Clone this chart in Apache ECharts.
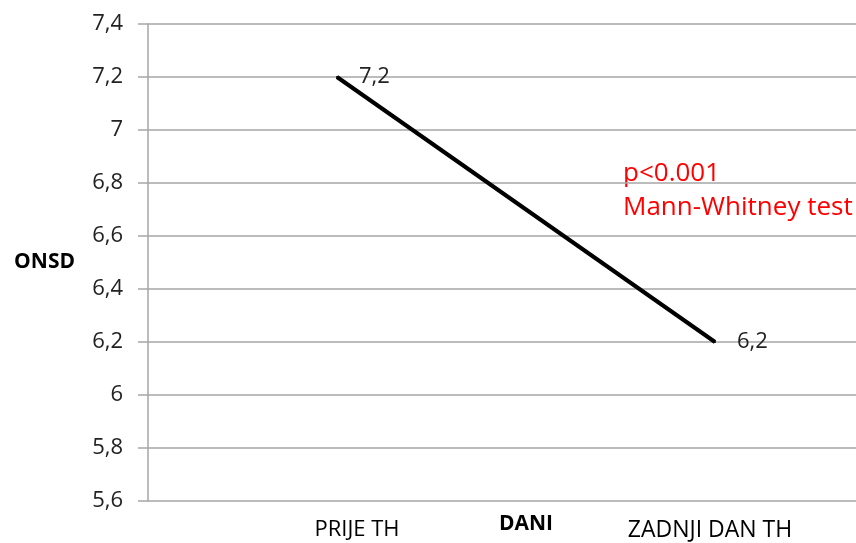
<!DOCTYPE html>
<html>
<head>
<meta charset="utf-8">
<script src="https://cdn.jsdelivr.net/npm/echarts@6/dist/echarts.min.js"></script>
<style>
html,body{margin:0;padding:0;background:#fff;}
#main{width:856px;height:543px;}
</style>
</head>
<body>
<div id="main"></div>
<script>
var categories = ["PRIJE TH", "ZADNJI DAN TH"];
var onsd = [7.2, 6.2];
var yMin = 5.6, yMax = 7.4, yStep = 0.2;
var noteLines = ["p<0.001", "Mann-Whitney test"];

var chart = echarts.init(document.getElementById('main'));
var font = 'Open Sans';
var option = {
    backgroundColor: '#fff',
    animation: false,
    grid: {left: 148, right: -48, top: 24, bottom: 42, outerBoundsMode: 'none', containLabel: false},
    xAxis: {
        type: 'category',
        data: categories,
        name: 'DANI',
        nameLocation: 'middle',
        nameGap: 13,
        nameMoveOverlap: false,
        nameTextStyle: {fontFamily: font, fontWeight: 'bold', fontSize: 21, color: '#000'},
        axisLine: {show: false},
        axisTick: {show: false},
        axisLabel: {
            margin: 18,
            fontFamily: font, fontSize: 22, color: '#000',
            formatter: function (v, i) { return i === 0 ? '{a|' + v + '}' : '{b|' + v + '}'; },
            rich: {
                a: {fontFamily: font, fontSize: 22, color: '#000', padding: [0, 0, 0, 40]},
                b: {fontFamily: font, fontSize: 23, color: '#000', padding: [0, 10, 0, 0]}
            }
        }
    },
    yAxis: {
        type: 'value',
        min: yMin, max: yMax, interval: yStep,
        name: 'ONSD',
        nameLocation: 'middle',
        nameRotate: 0,
        nameGap: 73,
        nameTextStyle: {fontFamily: font, fontWeight: 'bold', fontSize: 21, color: '#000', align: 'right', padding: [6, 0, 0, 0]},
        axisLine: {show: true, lineStyle: {color: '#a6a6a6', width: 1.5}},
        axisTick: {show: true, length: 10, lineStyle: {color: '#a6a6a6', width: 1.5}},
        splitLine: {show: true, lineStyle: {color: '#a6a6a6', width: 1.5}},
        axisLabel: {
            margin: 25,
            fontFamily: font, fontSize: 22, color: '#222',
            formatter: function (v) { return (Math.round(v * 10) / 10).toString().replace('.', ','); }
        }
    },
    series: [{
        type: 'line',
        data: onsd,
        symbol: 'circle',
        symbolSize: 2,
        showSymbol: true,
        itemStyle: {color: '#000'},
        lineStyle: {color: '#000', width: 4},
        label: {
            show: true,
            position: 'right',
            distance: 21,
            fontFamily: font, fontSize: 22, color: '#222',
            formatter: function (p) { return String(p.value).replace('.', ','); }
        }
    }],
    graphic: [{
        type: 'text',
        left: 623, top: 157,
        style: {
            text: noteLines.join('\n'),
            fontFamily: font, fontSize: 26, lineHeight: 34,
            fill: '#ff0000'
        }
    }]
};
chart.setOption(option);
</script>
</body>
</html>
